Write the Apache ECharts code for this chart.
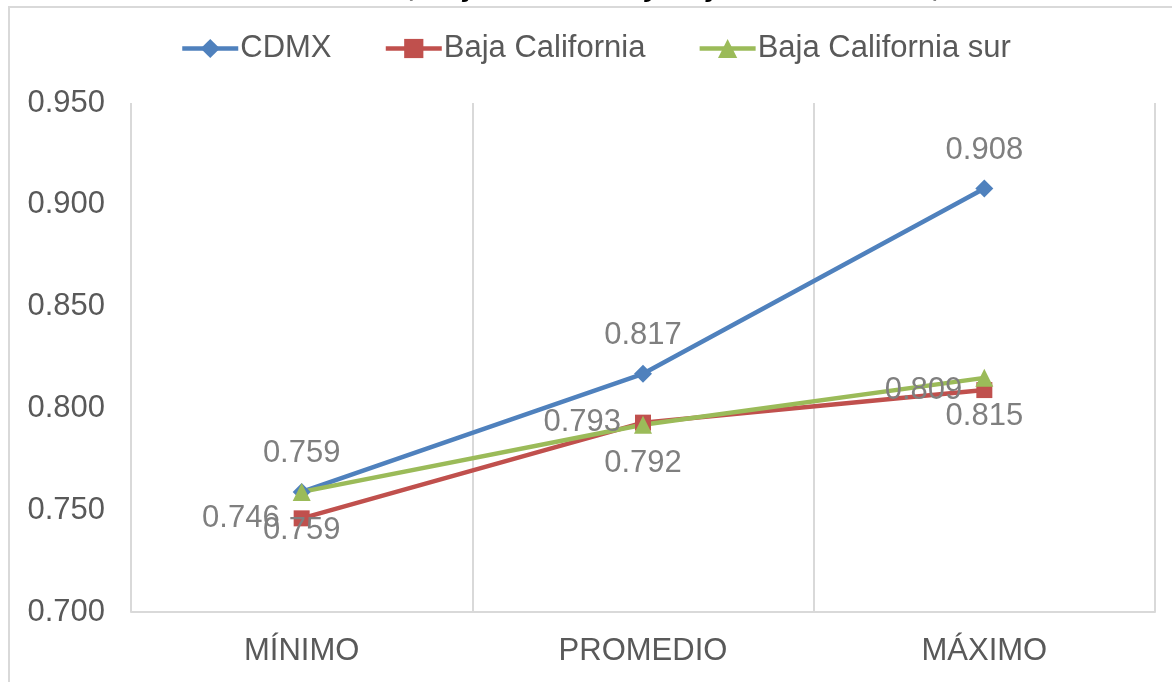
<!DOCTYPE html>
<html>
<head>
<meta charset="utf-8">
<script src="https://cdn.jsdelivr.net/npm/echarts@6/dist/echarts.min.js"></script>
<style>
html,body{margin:0;padding:0;background:#fff;}
#wrap{position:relative;width:1172px;height:682px;overflow:hidden;}
#chart{width:1172px;height:682px;}
#frame{position:absolute;left:8px;top:6px;width:1200px;height:700px;border:2px solid #d9d9d9;pointer-events:none;}
</style>
</head>
<body>
<div id="wrap">
    <div id="chart"></div>
    <div id="frame"></div>
</div>
<script>
// datos
const categorias = ['MÍNIMO', 'PROMEDIO', 'MÁXIMO']
const cdmx = [0.759, 0.817, 0.908]
const bajaCalifornia = [0.746, 0.793, 0.809]
const bajaCaliforniaSur = [0.759, 0.792, 0.815]
const titulo = 'Ciudad de México, Baja California y Baja California sur, 2015'

const fuente = '"Liberation Sans", Arial, sans-serif'

let myChart = echarts.init(document.getElementById('chart'))

function serie(nombre, datos, color, simbolo, tam, pos){
    return {
        name: nombre,
        type: 'line',
        data: datos,
        symbol: simbolo,
        symbolSize: tam,
        lineStyle: { color: color, width: 4.5 },
        itemStyle: { color: color },
        label: {
            show: true,
            position: pos,
            distance: 14,
            color: '#7f7f7f',
            fontSize: 31,
            fontFamily: fuente,
            formatter: p => p.value.toFixed(3)
        },
        z: 3
    }
}

let option = {
    animation: false,
    textStyle: { fontFamily: fuente },
    title: {
        text: titulo,
        left: 'center',
        top: -32,
        textStyle: {
            fontSize: 30,
            fontWeight: 'bold',
            fontStyle: 'italic',
            color: '#000',
            fontFamily: fuente
        }
    },
    legend: {
        top: 28,
        left: 175,
        itemWidth: 56,
        itemHeight: 24,
        itemGap: 52,
        lineStyle: { width: 4.5 },
        textStyle: { fontSize: 31, color: '#595959', fontFamily: fuente, padding: [0, 0, 0, -3] },
        data: ['CDMX', 'Baja California', 'Baja California sur']
    },
    grid: { left: 131, right: 17, top: 103, bottom: 70, containLabel: false },
    xAxis: {
        type: 'category',
        data: categorias,
        boundaryGap: true,
        axisLine: { show: true, lineStyle: { color: '#d9d9d9', width: 2 } },
        axisTick: { show: false },
        splitLine: { show: true, lineStyle: { color: '#d9d9d9', width: 2 } },
        axisLabel: { fontSize: 31, color: '#595959', margin: 24, fontFamily: fuente }
    },
    yAxis: {
        type: 'value',
        min: 0.7,
        max: 0.95,
        interval: 0.05,
        axisLine: { show: false },
        axisTick: { show: false },
        splitLine: { show: false },
        axisLabel: {
            fontSize: 31,
            color: '#595959',
            margin: 26,
            fontFamily: fuente,
            formatter: v => v.toFixed(3)
        }
    },
    series: [
        serie('CDMX', cdmx, '#4f81bd', 'diamond', 18, 'top'),
        serie('Baja California', bajaCalifornia, '#c0504d', 'rect', 16, 'left'),
        serie('Baja California sur', bajaCaliforniaSur, '#9bbb59', 'triangle', 18, 'bottom')
    ]
}
myChart.setOption(option)
</script>
</body>
</html>
